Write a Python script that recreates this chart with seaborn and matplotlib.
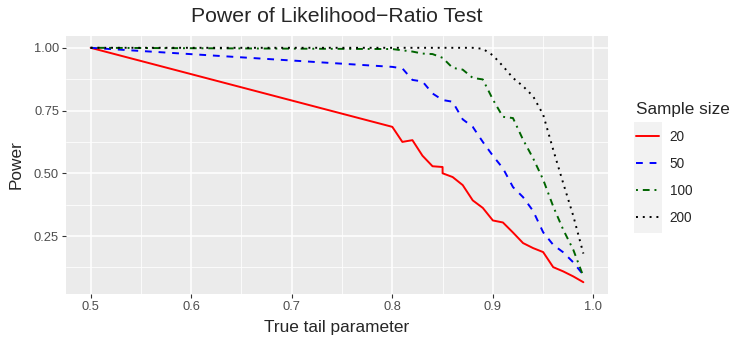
import numpy as np
import pandas as pd
import matplotlib
matplotlib.use("Agg")
import matplotlib.pyplot as plt
from matplotlib.patches import Rectangle
import seaborn as sns

# true tail parameter grid (0.85 appears twice in the n=20 run)
x_grid = [0.5, 0.80, 0.81, 0.82, 0.83, 0.84, 0.85, 0.86, 0.87, 0.88, 0.89,
          0.90, 0.91, 0.92, 0.93, 0.94, 0.95, 0.96, 0.97, 0.98, 0.99]
x_red = [0.5, 0.80, 0.81, 0.82, 0.83, 0.84, 0.85, 0.85, 0.86, 0.87, 0.88, 0.89,
         0.90, 0.91, 0.92, 0.93, 0.94, 0.95, 0.96, 0.97, 0.98, 0.99]

power_20 = [1.0, 0.685, 0.625, 0.632, 0.570, 0.528, 0.525, 0.500, 0.485, 0.453,
            0.392, 0.362, 0.312, 0.304, 0.264, 0.222, 0.202, 0.186, 0.126,
            0.109, 0.089, 0.066]
power_50 = [1.0, 0.924, 0.918, 0.872, 0.866, 0.818, 0.792, 0.785, 0.715, 0.685,
            0.625, 0.570, 0.520, 0.445, 0.405, 0.350, 0.265, 0.215, 0.185,
            0.145, 0.095]
power_100 = [1.0, 0.995, 0.990, 0.985, 0.977, 0.975, 0.960, 0.920, 0.913, 0.880,
             0.874, 0.794, 0.725, 0.720, 0.634, 0.560, 0.475, 0.368, 0.275,
             0.195, 0.089]
power_200 = [1.0, 1.0, 1.0, 1.0, 1.0, 1.0, 1.0, 1.0, 1.0, 1.0,
             0.996, 0.970, 0.927, 0.880, 0.847, 0.807, 0.734, 0.594, 0.460,
             0.330, 0.180]

sizes = ["20", "50", "100", "200"]

df = pd.concat([
    pd.DataFrame({"tail": x_red, "power": power_20, "n": "20"}),
    pd.DataFrame({"tail": x_grid, "power": power_50, "n": "50"}),
    pd.DataFrame({"tail": x_grid, "power": power_100, "n": "100"}),
    pd.DataFrame({"tail": x_grid, "power": power_200, "n": "200"}),
], ignore_index=True)

palette = {"20": "red", "50": "blue", "100": "darkgreen", "200": "black"}
dashes = {"20": "", "50": (3.5, 3.5), "100": (1, 2.5, 3.5, 2.5), "200": (1, 2.5)}

sns.set_theme(style="darkgrid", rc={
    "axes.facecolor": "#EBEBEB",
    "grid.color": "white",
    "axes.edgecolor": "none",
})
plt.rcParams["font.family"] = ["Liberation Sans", "DejaVu Sans"]

fig = plt.figure(figsize=(7.47, 3.45), dpi=100)
ax = fig.add_axes([66 / 747, 51 / 345, 542 / 747, 258 / 345])

sns.lineplot(data=df, x="tail", y="power", hue="n", style="n",
             hue_order=sizes, style_order=sizes, palette=palette,
             dashes=dashes, estimator=None, sort=False, linewidth=1.4, ax=ax)

ax.set_xlim(0.4755, 1.0145)
ax.set_ylim(0.019, 1.047)
ax.set_xticks([0.5, 0.6, 0.7, 0.8, 0.9, 1.0])
ax.set_xticklabels(["0.5", "0.6", "0.7", "0.8", "0.9", "1.0"])
ax.set_yticks([0.25, 0.5, 0.75, 1.0])
ax.set_yticklabels(["0.25", "0.50", "0.75", "1.00"])
ax.set_xticks([0.55, 0.65, 0.75, 0.85, 0.95], minor=True)
ax.set_yticks([0.125, 0.375, 0.625, 0.875], minor=True)
ax.grid(which="major", color="white", linewidth=1.1)
ax.grid(which="minor", color="white", linewidth=0.55)
ax.tick_params(which="major", length=3, width=0.8, color="#333333",
               labelsize=9.3, labelcolor="#4D4D4D", pad=2, bottom=True, left=True)
ax.tick_params(which="minor", length=0)
ax.set_xlabel("True tail parameter", fontsize=12.4, labelpad=5)
ax.set_ylabel("Power", fontsize=12.4, labelpad=7)
ax.set_title("Power of Likelihood\u2212Ratio Test", fontsize=15.3, pad=10)

sns.move_legend(ax, "upper left", bbox_to_anchor=(1.052, 0.743),
                frameon=False, title="Sample size", fontsize=9.8,
                title_fontsize=12.3, handlelength=1.65, labelspacing=0.95,
                borderaxespad=0, borderpad=0, handletextpad=0.8)
leg = ax.get_legend()
leg._legend_box.align = "left"

fig.patches.append(Rectangle((634 / 747, 112 / 345), 28 / 747, 111 / 345,
                             transform=fig.transFigure, facecolor="#F2F2F2",
                             edgecolor="none", zorder=-1))

fig.savefig("out.png", dpi=100)
